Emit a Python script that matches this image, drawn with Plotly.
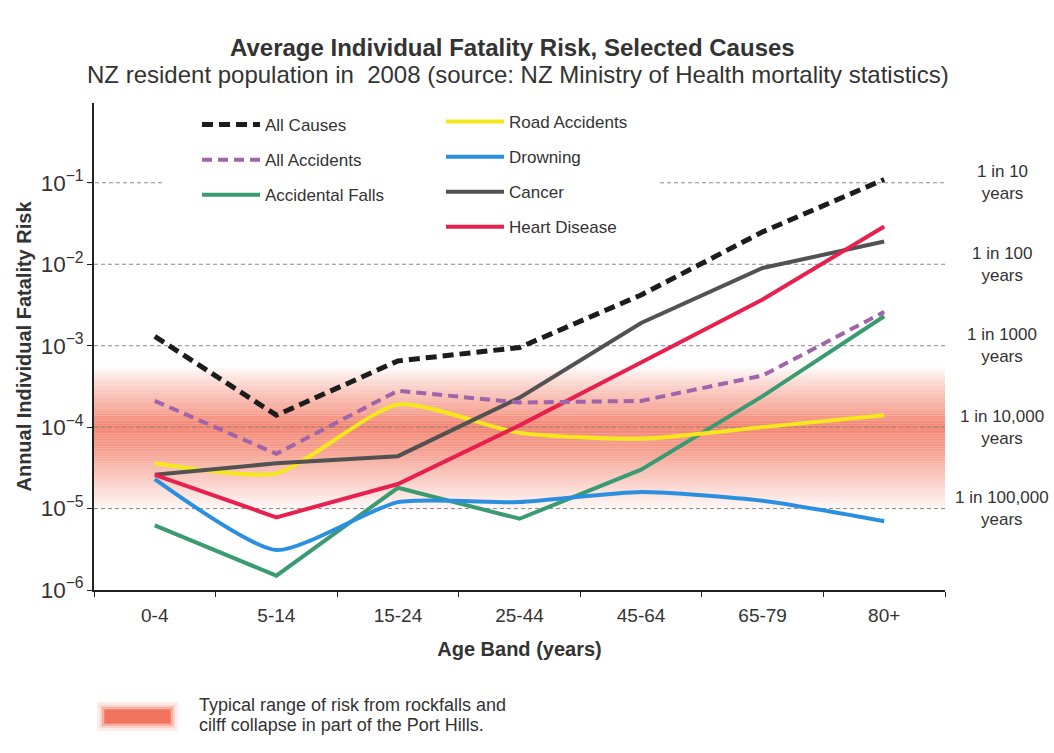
import numpy as np
import plotly.graph_objects as go

# ---------------- data ----------------
categories = ["0-4", "5-14", "15-24", "25-44", "45-64", "65-79", "80+"]
all_causes = [1.3e-3, 1.4e-4, 6.5e-4, 9.5e-4, 4.2e-3, 2.5e-2, 1.1e-1]
all_accidents = [2.1e-4, 4.7e-5, 2.8e-4, 2.0e-4, 2.1e-4, 4.3e-4, 2.6e-3]
accidental_falls = [6.2e-6, 1.5e-6, 1.8e-5, 7.5e-6, 3.0e-5, 2.4e-4, 2.3e-3]
road_accidents = [3.6e-5, 2.7e-5, 1.9e-4, 8.5e-5, 7.2e-5, 1.0e-4, 1.4e-4]
drowning = [2.3e-5, 3.1e-6, 1.2e-5, 1.2e-5, 1.6e-5, 1.25e-5, 7.0e-6]
cancer = [2.6e-5, 3.6e-5, 4.4e-5, 2.3e-4, 1.9e-3, 9.0e-3, 1.9e-2]
heart_disease = [2.6e-5, 7.8e-6, 2.0e-5, 1.05e-4, 6.2e-4, 3.7e-3, 2.9e-2]

reference_levels = [1e-1, 1e-2, 1e-3, 1e-4, 1e-5]
reference_labels = ["1 in 10<br>years", "1 in 100<br>years", "1 in 1000<br>years",
                    "1 in 10,000<br>years", "1 in 100,000<br>years"]

# rockfall band: visible extent (log10 of risk) and relative strength
band_log_points = [-5.05, -4.85, -4.6, -4.3, -4.0, -3.7, -3.45, -3.25]
band_strength = [0.0, 0.2, 0.45, 0.75, 1.0, 0.6, 0.3, 0.0]

# ---------------- layout geometry ----------------
W, H = 1054, 753
ML, MR, MT, MB = 94, 109, 103, 163
PW, PH = W - ML - MR, H - MT - MB


def px_x(px):
    return (px - ML) / PW


def px_y(py):
    return 1 - (py - MT) / PH


FONT = "Liberation Sans, Arial, sans-serif"
TXT = "#333333"

fig = go.Figure()

series = [
    ("Accidental Falls", accidental_falls, "#3a9b73", None, "legend", 3),
    ("Drowning", drowning, "#2b8fe0", None, "legend2", 5),
    ("Road Accidents", road_accidents, "#f4e81c", None, "legend2", 4),
    ("Cancer", cancer, "#525252", None, "legend2", 6),
    ("Heart Disease", heart_disease, "#e8204d", None, "legend2", 7),
    ("All Accidents", all_accidents, "#a064aa", "10px,6px", "legend", 2),
    ("All Causes", all_causes, "#1c1c1c", "11px,6px", "legend", 1),
]

for name, vals, col, dash, leg, rank in series:
    width = 5 if name == "All Causes" else 4
    line = dict(color=col, width=width)
    if dash:
        line["dash"] = dash
    if name in ("Road Accidents", "Drowning"):
        line["shape"] = "spline"
        line["smoothing"] = 0.6
    fig.add_trace(go.Scatter(
        x=categories, y=vals, mode="lines", name=name, line=line,
        legend=leg, legendgroup=name, legendrank=rank,
    ))

shapes = []
# gradient band
strips = np.linspace(band_log_points[0], band_log_points[-1], 90)
for lo, hi in zip(strips[:-1], strips[1:]):
    a = float(np.interp((lo + hi) / 2, band_log_points, band_strength))
    if a <= 0:
        continue
    shapes.append(dict(type="rect", xref="paper", yref="y", x0=0, x1=1,
                       y0=10 ** lo, y1=10 ** hi, layer="below", line=dict(width=0),
                       fillcolor=f"rgba(240,108,84,{0.85 * a:.3f})"))

# dashed reference lines
grid_style = dict(color="#8a8a8a", width=1, dash="4px,3px")
for lvl in reference_levels:
    if lvl == 1e-1:
        segs = [(px_x(88), px_x(165)), (px_x(660), 1)]
    else:
        segs = [(0, 1)]
    for a0, a1 in segs:
        shapes.append(dict(type="line", xref="paper", yref="y", x0=a0, x1=a1,
                           y0=lvl, y1=lvl, layer="below", line=grid_style))

# band key swatch below chart
for a, pad in [(0.12, 8), (0.2, 5), (0.35, 3), (0.55, 1), (0.7, 0)]:
    shapes.append(dict(type="rect", xref="paper", yref="paper",
                       x0=px_x(105 - pad), x1=px_x(170 + pad),
                       y0=px_y(723 + pad), y1=px_y(710 - pad),
                       line=dict(width=0), fillcolor=f"rgba(240,108,84,{a})"))

annotations = [
    dict(text="<b>Average Individual Fatality Risk, Selected Causes</b>",
         xref="paper", yref="paper", x=px_x(512), y=px_y(47), showarrow=False,
         font=dict(family=FONT, size=24, color=TXT), xanchor="center", yanchor="middle"),
    dict(text="NZ resident population in  2008 (source: NZ Ministry of Health mortality statistics)",
         xref="paper", yref="paper", x=px_x(518), y=px_y(74), showarrow=False,
         font=dict(family=FONT, size=24, color=TXT), xanchor="center", yanchor="middle"),
    dict(text="Typical range of risk from rockfalls and",
         xref="paper", yref="paper", x=px_x(197), y=px_y(705), showarrow=False,
         font=dict(family=FONT, size=18, color=TXT), xanchor="left", yanchor="middle"),
    dict(text="cilff collapse in part of the Port Hills.",
         xref="paper", yref="paper", x=px_x(197), y=px_y(725), showarrow=False,
         font=dict(family=FONT, size=18, color=TXT), xanchor="left", yanchor="middle"),
]
for lvl, lab in zip(reference_levels, reference_labels):
    annotations.append(dict(text=lab, xref="paper", yref="y", x=px_x(1002), y=np.log10(lvl),
                            showarrow=False, align="center",
                            font=dict(family=FONT, size=17, color=TXT),
                            xanchor="center", yanchor="middle"))

legend_common = dict(
    bgcolor="rgba(0,0,0,0)", font=dict(family=FONT, size=17, color=TXT),
    tracegroupgap=10, itemwidth=58, yanchor="top", xanchor="left",
    traceorder="grouped",
)

fig.update_layout(
    width=W, height=H,
    margin=dict(l=ML, r=MR, t=MT, b=MB),
    paper_bgcolor="white", plot_bgcolor="rgba(0,0,0,0)",
    showlegend=True,
    legend=dict(x=px_x(197), y=px_y(107), **legend_common),
    legend2=dict(x=px_x(441), y=px_y(104), **legend_common),
    shapes=shapes,
    annotations=annotations,
    font=dict(family=FONT, color=TXT),
)

fig.update_xaxes(
    type="category", categoryorder="array", categoryarray=categories,
    range=[-0.5, 6.5], showgrid=False, zeroline=False,
    showline=True, linecolor="#222222", linewidth=1.5,
    ticks="outside", tickson="boundaries", ticklen=5, tickcolor="#222222",
    ticklabelstandoff=7,
    tickfont=dict(family=FONT, size=19, color=TXT),
    title=dict(text="<b>Age Band (years)</b>", font=dict(family=FONT, size=20, color=TXT), standoff=17),
)
fig.update_yaxes(
    type="log", range=[-6, -0.02], dtick=1, exponentformat="power",
    showgrid=False, zeroline=False,
    showline=True, linecolor="#222222", linewidth=1.5,
    ticks="outside", ticklen=5, tickcolor="#222222",
    tickfont=dict(family=FONT, size=18, color=TXT),
    title=dict(text="<b>Annual Individual Fatality Risk</b>", font=dict(family=FONT, size=20, color=TXT), standoff=4),
)

fig.write_html(
    "out.html",
    config={"displayModeBar": False},
    post_script="document.body.style.margin='0px';document.body.style.padding='0px';"
                "document.documentElement.style.overflow='hidden';",
)
